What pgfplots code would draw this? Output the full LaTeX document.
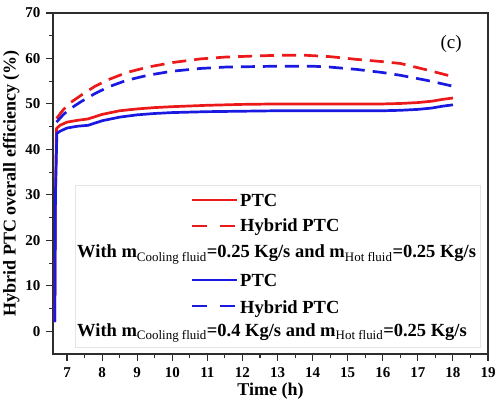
\documentclass[border=0pt]{standalone}
\usepackage{pgfplots}
\pgfplotsset{compat=1.18}
\usepackage{fontspec}
\setmainfont{Liberation Serif}

\definecolor{ptcred}{RGB}{235,25,25}
\definecolor{ptcblue}{RGB}{25,25,225}
\definecolor{axisgray}{RGB}{45,45,45}

% PTC and hybrid PTC efficiency (%), m_hot = 0.25 kg/s
\pgfplotstableread{
t eff
6.65 2.0
6.67 30.0
6.70 44.6
6.80 45.3
7.00 46.0
7.30 46.4
7.60 46.7
8.00 47.7
8.50 48.5
9.00 48.9
9.50 49.2
10.0 49.4
11.0 49.7
12.0 49.9
13.0 50.0
14.0 50.0
15.0 50.0
16.0 50.0
16.5 50.1
17.0 50.3
17.4 50.6
17.7 51.0
18.0 51.3
}\ptcA
\pgfplotstableread{
t eff
6.70 46.8
6.90 48.8
7.10 50.3
7.40 51.9
7.80 53.9
8.20 55.4
8.70 56.9
9.30 58.1
10.0 59.1
10.8 59.9
11.5 60.3
12.2 60.5
13.0 60.7
13.8 60.7
14.5 60.4
15.25 59.8
16.0 59.3
16.5 58.9
17.25 57.5
18.0 56.0
}\hybA
\pgfplotstableread{
t eff
6.65 2.0
6.67 30.0
6.71 43.5
6.80 44.0
7.00 44.7
7.30 45.1
7.60 45.3
8.00 46.3
8.50 47.1
9.00 47.6
9.50 47.9
10.0 48.1
11.0 48.3
12.0 48.4
13.0 48.5
14.0 48.5
15.0 48.5
16.0 48.5
16.5 48.6
17.0 48.8
17.4 49.1
17.7 49.5
18.0 49.8
}\ptcB
\pgfplotstableread{
t eff
6.70 46.0
6.90 47.7
7.10 49.0
7.40 50.5
7.80 52.3
8.20 53.8
8.70 55.2
9.30 56.3
10.0 57.2
10.8 57.8
11.5 58.1
12.2 58.2
13.0 58.3
14.0 58.3
14.5 58.1
15.25 57.6
16.0 56.9
16.5 56.3
17.25 55.2
18.0 53.9
}\hybB

\begin{document}
\begin{tikzpicture}
\useasboundingbox (-53pt,-59pt) rectangle (443pt,354pt);
\begin{axis}[
  scale only axis,
  width=435pt, height=341pt,
  xmin=6.6, xmax=19, ymin=-5, ymax=70,
  xtick={7,...,19}, ytick={0,10,...,70},
  minor x tick num=1, minor y tick num=1,
  axis line style={axisgray, line width=1.3pt},
  every tick/.style={axisgray, line width=1.1pt},
  tick align=outside,
  xtick pos=bottom, ytick pos=left,
  major tick length=7pt, minor tick length=4pt,
  tick label style={font=\fontsize{15}{17}\selectfont\bfseries},
  /pgf/number format/assume math mode=true,
  xticklabel style={yshift=-3pt},
  yticklabel style={xshift=-2pt},
  xlabel={Time (h)},
  ylabel={Hybrid PTC overall efficiency (\%)},
  label style={font=\fontsize{18}{22}\selectfont\bfseries},
  xlabel style={font=\fontsize{18}{22}\selectfont\bfseries, yshift=2pt},
  ylabel style={yshift=-1pt},
  every axis plot/.style={line width=2.7pt, line join=round},
]
\addplot[ptcred, no markers] table[x=t, y=eff] {\ptcA};
\addplot[ptcred, no markers, dash pattern=on 14pt off 8pt] table[x=t, y=eff] {\hybA};
\addplot[ptcblue, no markers] table[x=t, y=eff] {\ptcB};
\addplot[ptcblue, no markers, dash pattern=on 14pt off 8pt] table[x=t, y=eff] {\hybB};
\node[font=\fontsize{19}{22}\selectfont] at (axis cs:17.95,63.2) {(c)};
\end{axis}

% legend
\draw[black!10, line width=0.6pt, fill=white] (22pt,7pt) rectangle (427pt,169pt);
\begin{scope}[font=\fontsize{18.5}{22}\selectfont\bfseries]
  \draw[ptcred, line width=2.4pt] (139pt,154pt) -- (184pt,154pt);
  \node[anchor=base west, inner sep=0pt] at (187pt,147pt) {PTC};
  \draw[ptcred, line width=2.4pt] (139pt,128pt) -- (154pt,128pt);
  \draw[ptcred, line width=2.4pt] (167pt,128pt) -- (182pt,128pt);
  \node[anchor=base west, inner sep=0pt] at (187pt,122pt) {Hybrid PTC};
  \node[anchor=base west, inner sep=0pt] at (24pt,96pt)
    {With m\textsubscript{\mdseries Cooling fluid}=0.25 Kg/s and m\textsubscript{\mdseries Hot fluid}=0.25 Kg/s};
  \draw[ptcblue, line width=2.4pt] (139pt,74pt) -- (184pt,74pt);
  \node[anchor=base west, inner sep=0pt] at (187pt,67pt) {PTC};
  \draw[ptcblue, line width=2.4pt] (139pt,48pt) -- (154pt,48pt);
  \draw[ptcblue, line width=2.4pt] (167pt,48pt) -- (182pt,48pt);
  \node[anchor=base west, inner sep=0pt] at (187pt,41pt) {Hybrid PTC};
  \node[anchor=base west, inner sep=0pt] at (24pt,18pt)
    {With m\textsubscript{\mdseries Cooling fluid}=0.4 Kg/s and m\textsubscript{\mdseries Hot fluid}=0.25 Kg/s};
\end{scope}
\end{tikzpicture}
\end{document}
